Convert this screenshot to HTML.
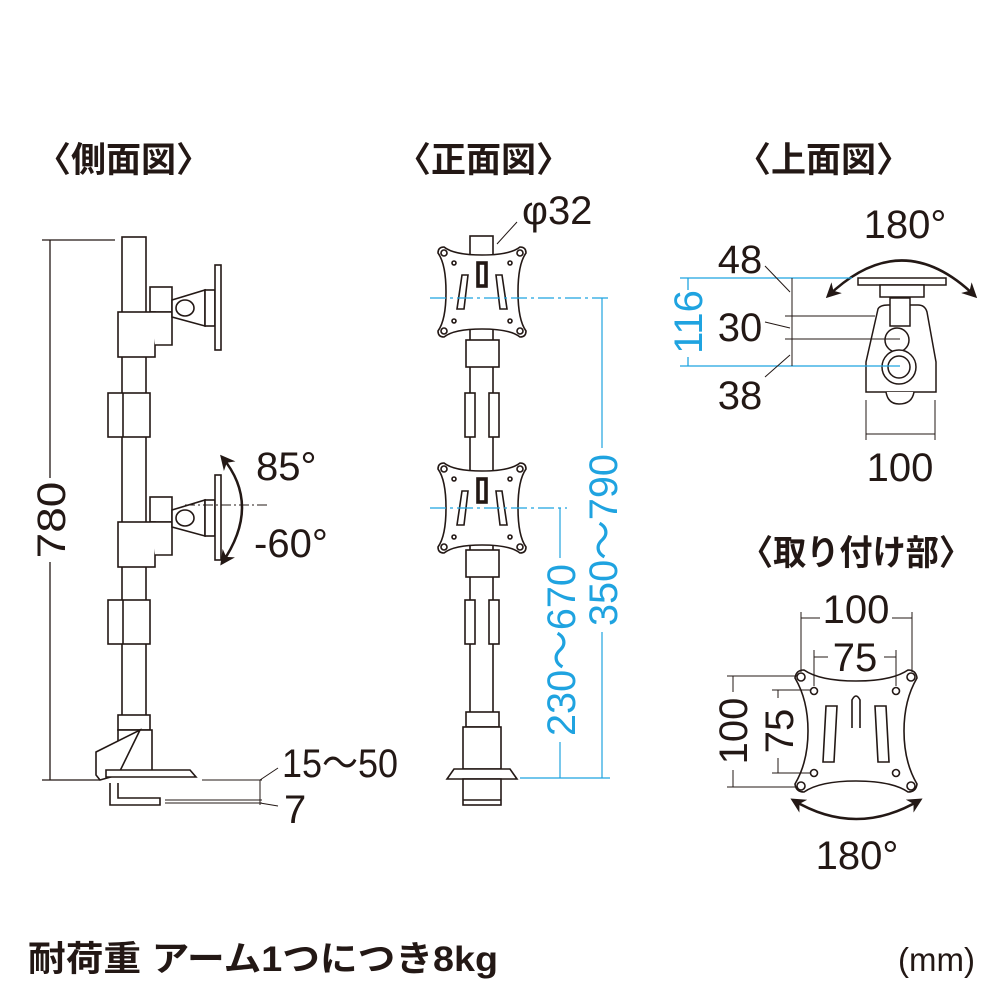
<!DOCTYPE html>
<html><head><meta charset="utf-8"><style>
html,body{margin:0;padding:0;background:#fff}
svg{display:block}
text{font-family:"Liberation Sans","Noto Sans CJK JP",sans-serif;fill:#231815}
.t{font-weight:bold;font-size:35px}
.d{font-size:40px}
.b{fill:#1fa3e0}
</style></head><body>
<svg width="1000" height="1000" viewBox="0 0 1000 1000" xmlns="http://www.w3.org/2000/svg">
<defs>
<marker id="ah" viewBox="0 0 10 10" refX="8" refY="5" markerWidth="6" markerHeight="6" orient="auto-start-reverse"><path d="M0,0 L10,5 L0,10 L3,5z" fill="#231815"/></marker>
<g id="vesa" fill="#fff" stroke="#231815" stroke-width="1.6">
<path d="M-38,-45 Q-44,-45 -44,-39 Q-36,-28 -36,0 Q-36,28 -44,39 Q-44,45 -38,45 Q-28,37 0,37 Q28,37 38,45 Q44,45 44,39 Q36,28 36,0 Q36,-28 44,-39 Q44,-45 38,-45 Q28,-37 0,-37 Q-28,-37 -38,-45z"/>
<circle cx="-38" cy="-39" r="3"/><circle cx="38" cy="-39" r="3"/><circle cx="-38" cy="39" r="3"/><circle cx="38" cy="39" r="3"/>
<circle cx="-28" cy="-29" r="2"/><circle cx="28" cy="-29" r="2"/><circle cx="-28" cy="29" r="2"/><circle cx="28" cy="29" r="2"/>
<path d="M-20,-17 L-14,-17 L-18,17 L-25,17z"/><path d="M14,-17 L20,-17 L25,17 L18,17z"/>
<rect x="-5" y="-30" width="10" height="25" fill="#231815"/><rect x="-3" y="-28" width="6" height="21" fill="#fff"/>
</g>
<g id="sidearm" fill="#fff" stroke="#231815" stroke-width="1.6">
<rect x="150" y="-25" width="22" height="25"/>
<rect x="118" y="0" width="37" height="45"/>
<path d="M150,0 H172 V33 H155"/>
<path d="M172,-12 L205,-22 L205,14 L172,5z"/>
<ellipse cx="185" cy="-4" rx="9" ry="8"/>
<rect x="205" y="-22" width="10" height="36"/>
<rect x="215" y="-47" width="6" height="85"/>
</g>
</defs>

<text class="t" x="36" y="172">〈側面図〉</text>
<text class="t" x="396" y="172">〈正面図〉</text>
<text class="t" x="736" y="172">〈上面図〉</text>
<text class="t" x="740" y="565" textLength="232" lengthAdjust="spacingAndGlyphs">〈取り付け部〉</text>

<!-- SIDE VIEW -->
<g stroke="#231815" stroke-width="1.3" fill="none">
<line x1="42" y1="240" x2="115" y2="240"/><line x1="42" y1="780" x2="100" y2="780"/>
<line x1="50" y1="240" x2="50" y2="478"/><line x1="50" y1="562" x2="50" y2="780"/>
</g>
<text class="d" transform="translate(65,520) rotate(-90) scale(1.15,1)" text-anchor="middle">780</text>
<g fill="#fff" stroke="#231815" stroke-width="1.6">
<rect x="122" y="237" width="24" height="480"/>
<use href="#sidearm" transform="translate(0,312)"/>
<use href="#sidearm" transform="translate(0,522)"/>
<rect x="108" y="393" width="42" height="44"/><line x1="123" y1="393" x2="123" y2="437"/>
<rect x="108" y="600" width="42" height="44"/><line x1="123" y1="600" x2="123" y2="644"/>
<rect x="118" y="715" width="32" height="15"/>
<rect x="118" y="730" width="34" height="45"/>
<path d="M96,752 L140,730 L118,775 L100,780 L96,775z"/>
<path d="M106,770 H190 L196,777 H106z"/>
<path d="M110,783 V805 H160 V798 H118 V783"/>
</g>
<g stroke="#231815" stroke-width="1" fill="none">
<line x1="202" y1="780" x2="262" y2="780"/><line x1="165" y1="800" x2="262" y2="800"/><line x1="165" y1="803" x2="262" y2="803"/>
<line x1="260" y1="780" x2="260" y2="805"/><line x1="260" y1="780" x2="278" y2="768"/><line x1="260" y1="803" x2="278" y2="806"/>
<line x1="185" y1="505" x2="268" y2="505" stroke-dasharray="10,3,2,3"/>
<path d="M222,457 Q262,505 222,563" stroke-width="2.5" marker-start="url(#ah)" marker-end="url(#ah)"/>
</g>
<text class="d" x="282" y="777" textLength="116" lengthAdjust="spacingAndGlyphs">15～50</text>
<text class="d" x="284" y="823">7</text>
<text class="d" x="256" y="480">85°</text>
<text class="d" x="254" y="557">-60°</text>

<!-- FRONT VIEW -->
<g fill="#fff" stroke="#231815" stroke-width="1.6">
<rect x="470" y="236" width="23" height="480"/>
<rect x="466" y="340" width="33" height="27"/>
<rect x="466" y="550" width="33" height="27"/>
<use href="#vesa" transform="translate(482,292)"/>
<use href="#vesa" transform="translate(482,508)"/>
<rect x="465" y="393" width="10" height="44"/><rect x="489" y="393" width="10" height="44"/>
<rect x="465" y="600" width="10" height="44"/><rect x="489" y="600" width="10" height="44"/>
<rect x="466" y="712" width="33" height="15"/>
<rect x="463" y="727" width="38" height="42"/>
<path d="M454,769 H510 L517,779 H447z"/>
<rect x="463" y="779" width="38" height="26"/><line x1="463" y1="800" x2="501" y2="800"/>
</g>
<line x1="497" y1="244" x2="517" y2="222" stroke="#231815" stroke-width="1"/>
<text class="d" x="522" y="224">φ32</text>
<g stroke="#1fa3e0" stroke-width="1.2" fill="none">
<line x1="430" y1="298" x2="610" y2="298" stroke-dasharray="16,4,3,4"/>
<line x1="430" y1="508" x2="567" y2="508" stroke-dasharray="16,4,3,4"/>
<line x1="520" y1="778" x2="610" y2="778"/>
<line x1="602" y1="298" x2="602" y2="448"/><line x1="602" y1="632" x2="602" y2="778"/>
<line x1="560" y1="508" x2="560" y2="558"/><line x1="560" y1="742" x2="560" y2="778"/>
</g>
<text class="d b" transform="translate(617,540) rotate(-90)" text-anchor="middle" textLength="172" lengthAdjust="spacingAndGlyphs">350～790</text>
<text class="d b" transform="translate(575,650) rotate(-90)" text-anchor="middle" textLength="172" lengthAdjust="spacingAndGlyphs">230～670</text>

<!-- TOP VIEW -->
<text class="d" x="905" y="238" text-anchor="middle">180°</text>
<path d="M828,296 Q902,225 975,296" stroke="#231815" stroke-width="2.5" fill="none" marker-start="url(#ah)" marker-end="url(#ah)"/>
<g fill="#fff" stroke="#231815" stroke-width="1.5">
<rect x="858" y="278" width="88" height="7"/>
<rect x="880" y="285" width="44" height="12"/>
<path d="M878,309 Q880,305 888,305 H918 Q925,305 927,312 L936,362 L936,392 H866 V362z"/>
<rect x="890" y="298" width="20" height="28"/>
<circle cx="897" cy="340" r="12"/>
<circle cx="899" cy="367" r="17"/><circle cx="899" cy="367" r="11"/>
<path d="M886,392 Q888,404 899,404 Q912,404 914,392"/>
</g>
<g stroke="#1fa3e0" stroke-width="1.3"><line x1="680" y1="278" x2="852" y2="278"/><line x1="680" y1="366" x2="900" y2="366"/>
<line x1="688" y1="278" x2="688" y2="290"/><line x1="688" y1="357" x2="688" y2="366"/></g>
<text class="d b" transform="translate(702,322) rotate(-90)" text-anchor="middle">116</text>
<g stroke="#231815" stroke-width="1" fill="none">
<line x1="792" y1="278" x2="792" y2="366"/>
<line x1="785" y1="316" x2="875" y2="316"/><line x1="785" y1="339" x2="900" y2="339"/>
<line x1="765" y1="266" x2="790" y2="292"/><line x1="765" y1="322" x2="790" y2="328"/><line x1="765" y1="377" x2="790" y2="355"/>
<line x1="866" y1="400" x2="866" y2="440"/><line x1="935" y1="400" x2="935" y2="440"/><line x1="866" y1="434" x2="935" y2="434"/>
</g>
<text class="d" x="740" y="273" text-anchor="middle">48</text>
<text class="d" x="740" y="341" text-anchor="middle">30</text>
<text class="d" x="740" y="409" text-anchor="middle">38</text>
<text class="d" x="900" y="481" text-anchor="middle">100</text>

<!-- MOUNT -->
<g fill="#fff" stroke="#231815" stroke-width="1.6">
<path d="M804,670 Q796,670 795,678 Q808,700 808,731 Q808,762 795,784 Q796,792 804,792 Q820,781 856,781 Q892,781 908,792 Q916,792 917,784 Q904,762 904,731 Q904,700 917,678 Q916,670 908,670 Q892,681 856,681 Q820,681 804,670z"/>
<circle cx="801" cy="677" r="4"/><circle cx="911" cy="677" r="4"/><circle cx="801" cy="786" r="4"/><circle cx="911" cy="786" r="4"/>
<circle cx="814" cy="691" r="3.5"/><circle cx="896" cy="691" r="3.5"/><circle cx="814" cy="773" r="3.5"/><circle cx="896" cy="773" r="3.5"/>
<path d="M826,706 H837 L834,762 H823z"/><path d="M875,706 H886 L889,762 H878z"/>
<path d="M852,728 V700 Q856,692 860,700 V728"/>
</g>
<g stroke="#231815" stroke-width="1" fill="none">
<line x1="801" y1="612" x2="801" y2="672"/><line x1="912" y1="612" x2="912" y2="672"/>
<line x1="801" y1="618" x2="820" y2="618"/><line x1="892" y1="618" x2="912" y2="618"/>
<line x1="814" y1="650" x2="814" y2="686"/><line x1="896" y1="650" x2="896" y2="686"/>
<line x1="814" y1="657" x2="828" y2="657"/><line x1="884" y1="657" x2="896" y2="657"/>
<line x1="727" y1="676" x2="797" y2="676"/><line x1="727" y1="787" x2="797" y2="787"/>
<line x1="733" y1="676" x2="733" y2="692"/><line x1="733" y1="770" x2="733" y2="787"/>
<line x1="772" y1="690" x2="810" y2="690"/><line x1="772" y1="773" x2="810" y2="773"/>
<line x1="778" y1="690" x2="778" y2="698"/><line x1="778" y1="758" x2="778" y2="773"/>
<path d="M793,800 Q856,838 920,800" stroke-width="2.5" marker-start="url(#ah)" marker-end="url(#ah)"/>
</g>
<text class="d" x="856" y="623" text-anchor="middle">100</text>
<text class="d" x="855" y="671" text-anchor="middle">75</text>
<text class="d" transform="translate(747,731) rotate(-90)" text-anchor="middle">100</text>
<text class="d" transform="translate(793,731) rotate(-90)" text-anchor="middle">75</text>
<text class="d" x="857" y="869" text-anchor="middle">180°</text>

<text class="t" x="28" y="971" textLength="470" lengthAdjust="spacingAndGlyphs">耐荷重 アーム1つにつき8kg</text>
<text x="975" y="971" text-anchor="end" style="font-size:33px">(mm)</text>
</svg>
</body></html>
